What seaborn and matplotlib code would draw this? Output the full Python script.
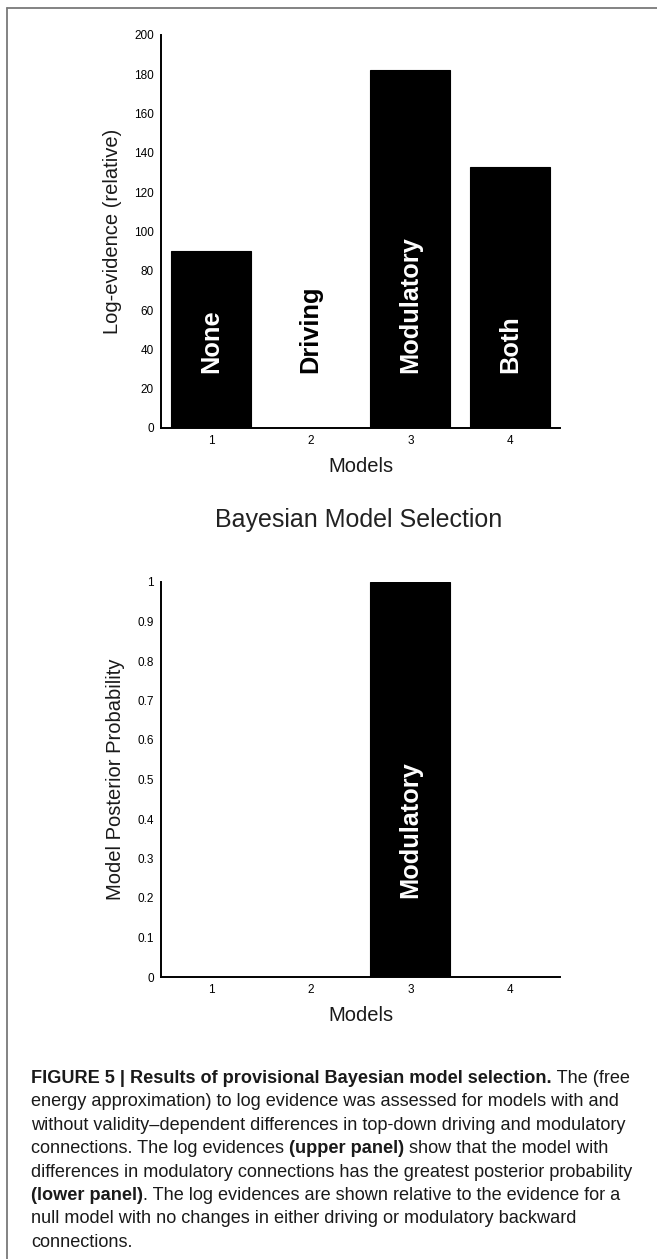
import matplotlib
matplotlib.use("Agg")
import matplotlib.pyplot as plt
from matplotlib import font_manager
from matplotlib.lines import Line2D
import numpy as np
import pandas as pd
import seaborn as sns

# ---- data -------------------------------------------------------------
models = ["1", "2", "3", "4"]
model_names = ["None", "Driving", "Modulatory", "Both"]
log_evidence = [90, 0, 182, 133]          # relative log-evidence per model
posterior = [0.0, 0.0, 1.0, 0.0]          # model posterior probability
log_ticks = [0, 20, 40, 60, 80, 100, 120, 140, 160, 180, 200]
post_ticks = [0, 0.1, 0.2, 0.3, 0.4, 0.5, 0.6, 0.7, 0.8, 0.9, 1.0]
post_tick_labels = ["0", "0.1", "0.2", "0.3", "0.4", "0.5", "0.6", "0.7",
                    "0.8", "0.9", "1"]
lower_names = ["", "", "Modulatory", ""]

caption_lines = [
    [("FIGURE 5 | Results of provisional Bayesian model selection.", True),
     (" The (free", False)],
    [("energy approximation) to log evidence was assessed for models with and", False)],
    [("without validity\u2013dependent differences in top-down driving and modulatory", False)],
    [("connections. The log evidences ", False), ("(upper panel)", True),
     (" show that the model with", False)],
    [("differences in modulatory connections has the greatest posterior probability", False)],
    [("(lower panel)", True),
     (". The log evidences are shown relative to the evidence for a", False)],
    [("null model with no changes in either driving or modulatory backward", False)],
    [("connections.", False)],
]

# ---- style ------------------------------------------------------------
sns.set_theme(style="white")
plt.rcParams["font.family"] = ["Liberation Sans", "DejaVu Sans"]

installed = {f.name for f in font_manager.fontManager.ttflist}


def pick(*names):
    for n in names:
        if n in installed:
            return n
    return "DejaVu Sans"


narrow = pick("Liberation Sans Narrow", "Liberation Sans", "Arimo")

W, H = 657, 1259
fig = plt.figure(figsize=(W / 100, H / 100), dpi=100)
fig.patch.set_facecolor("white")


def px_axes(left, top, right, bottom):
    return fig.add_axes([left / W, 1 - bottom / H, (right - left) / W, (bottom - top) / H])


ax1 = px_axes(161, 35, 560, 428)
ax2 = px_axes(161, 582, 560, 977)

df_top = pd.DataFrame({"Models": models, "value": log_evidence})
df_bot = pd.DataFrame({"Models": models, "value": posterior})

for ax, df in ((ax1, df_top), (ax2, df_bot)):
    sns.barplot(data=df, x="Models", y="value", color="black", width=0.8,
                edgecolor="black", linewidth=0.8, saturation=1, ax=ax)
    ax.set_xlim(-0.5, 3.5)
    for side in ("top", "right"):
        ax.spines[side].set_visible(False)
    for side in ("left", "bottom"):
        ax.spines[side].set_linewidth(1.4)
        ax.spines[side].set_color("black")
    ax.tick_params(direction="in", length=4, width=1.1, colors="black",
                   labelsize=8.5, pad=5)
    for lab in ax.get_xticklabels() + ax.get_yticklabels():
        lab.set_family(narrow)
    ax.set_xlabel("Models", fontsize=14.5, labelpad=7, color="#1a1a1a")
    ax.set_facecolor("white")
    ax.set_zorder(2)

ax1.set_ylim(0, 200)
ax1.set_yticks(log_ticks)
ax1.set_yticklabels([str(t) for t in log_ticks], family=narrow)
ax1.set_ylabel("Log-evidence (relative)", fontsize=14.5, labelpad=9,
               color="#1a1a1a")

ax2.set_ylim(0, 1)
ax2.set_yticks(post_ticks)
ax2.set_yticklabels(post_tick_labels, family=narrow)
ax2.set_ylabel("Model Posterior Probability", fontsize=14.5, labelpad=9,
               color="#1a1a1a")

# ---- rotated bar names -------------------------------------------------
fig.canvas.draw()
renderer = fig.canvas.get_renderer()
probe = fig.text(0, 0, "Modulatory", fontsize=10, family=narrow,
                 weight="bold")
name_fs = 10 * 137 / probe.get_window_extent(renderer).width
probe.remove()

for i, (name, val) in enumerate(zip(model_names, log_evidence)):
    ax1.text(i, 28, name, rotation=90, rotation_mode="anchor",
             ha="left", va="center", fontsize=name_fs, weight="bold",
             family=narrow,
             color="white" if val > 40 else "black")

for i, (name, val) in enumerate(zip(lower_names, posterior)):
    if name:
        ax2.text(i, 0.2, name, rotation=90, rotation_mode="anchor",
                 ha="left", va="center", fontsize=name_fs, weight="bold",
                 family=narrow,
                 color="white" if val > 0.2 else "black")

# ---- title between the panels -------------------------------------------
fig.text(359 / W, 1 - 527 / H, "Bayesian Model Selection", ha="center",
         va="baseline", fontsize=18, color="#222222")

# ---- caption -------------------------------------------------------------
probe = fig.text(0, 0, caption_lines[4][0][0], fontsize=10)
cap_fs = 10 * 604 / probe.get_window_extent(renderer).width
probe.remove()

x0 = 31
y_first = 1083
line_step = 23.4
for k, segments in enumerate(caption_lines):
    x = x0
    y = y_first + k * line_step
    for text, bold in segments:
        t = fig.text(x / W, 1 - y / H, text, fontsize=cap_fs,
                     weight="bold" if bold else "normal",
                     color="#1a1a1a", ha="left", va="baseline")
        x += t.get_window_extent(renderer).width

# ---- frame lines along the top and left edges ---------------------------
frame_kw = dict(color="#7a7a7a", linewidth=1.3, transform=fig.transFigure)
fig.add_artist(Line2D([7 / W, 1], [1 - 8 / H, 1 - 8 / H], **frame_kw))
fig.add_artist(Line2D([7 / W, 7 / W], [0, 1 - 8 / H], **frame_kw))

fig.savefig("out.png", dpi=100, facecolor="white")
